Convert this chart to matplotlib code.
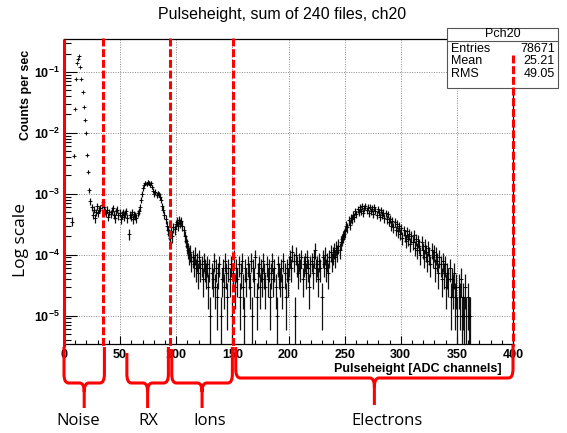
import numpy as np
import matplotlib
matplotlib.use('Agg')
import matplotlib.pyplot as plt
from matplotlib.path import Path
from matplotlib.patches import PathPatch, Rectangle
from matplotlib.lines import Line2D
from matplotlib.ticker import MultipleLocator, LogLocator, NullFormatter
import matplotlib.transforms as mtransforms

plt.rcParams['font.family'] = ['Liberation Sans', 'DejaVu Sans']
plt.rcParams['mathtext.fontset'] = 'custom'
plt.rcParams['mathtext.rm'] = 'Liberation Sans'
plt.rcParams['mathtext.bf'] = 'Liberation Sans:bold'

# ---------------- data ----------------
live_time = 1.0e5  # seconds
# counts per 1-channel bin, channel 0 upward
counts = [
    0, 0, 0, 0, 0, 0, 0, 35, 420, 2500,
    7500, 14000, 16000, 18000, 12000, 7500, 4700, 2700, 1600, 980,
    430, 230, 115, 75, 60, 45, 55, 40, 50, 62,
    48, 55, 58, 65, 72, 60, 52, 48, 55, 42,
    50, 47, 53, 58, 45, 40, 52, 55, 44, 49,
    38, 45, 50, 42, 48, 52, 40, 22, 45, 42,
    50, 38, 46, 44, 40, 48, 52, 60, 78, 100,
    122, 140, 150, 145, 158, 150, 140, 152, 130, 112,
    100, 108, 95, 102, 98, 88, 80, 62, 55, 45,
    38, 30, 25, 22, 19, 24, 20, 28, 26, 32,
    35, 30, 37, 33, 36, 30, 25, 20, 17, 14,
    12, 10, 11, 8, 9, 7, 10, 6, 8, 5,
    9, 6, 7, 4, 8, 6, 5, 7, 3, 6,
    1, 5, 4, 8, 3, 6, 2, 5, 7, 1,
    4, 6, 3, 8, 5, 2, 6, 4, 7, 1,
    5, 9, 3, 6, 4, 7, 2, 5, 8, 3,
    1, 6, 4, 7, 5, 3, 8, 1, 6, 4,
    9, 2, 5, 7, 3, 6, 4, 8, 5, 3,
    7, 4, 6, 2, 5, 8, 4, 6, 3, 1,
    7, 5, 4, 6, 3, 8, 5, 2, 6, 4,
    7, 9, 6, 11, 8, 1, 10, 7, 5, 8,
    6, 9, 4, 7, 8, 5, 9, 6, 3, 7,
    8, 5, 9, 12, 6, 7, 4, 8, 6, 2,
    9, 7, 10, 6, 8, 5, 9, 11, 8, 10,
    12, 9, 13, 11, 14, 12, 16, 18, 20, 22,
    24, 30, 28, 37, 31, 40, 38, 45, 41, 52,
    46, 56, 50, 60, 52, 62, 49, 58, 63, 54,
    59, 48, 61, 52, 57, 47, 60, 53, 45, 56,
    50, 42, 54, 45, 49, 40, 48, 38, 46, 35,
    39, 30, 36, 28, 34, 25, 32, 24, 29, 22,
    27, 19, 25, 21, 17, 24, 18, 22, 15, 20,
    16, 21, 13, 18, 12, 17, 14, 10, 16, 12,
    9, 14, 11, 8, 13, 10, 7, 12, 9, 11,
    6, 10, 8, 5, 9, 7, 4, 8, 5, 7,
    3, 5, 4, 6, 2, 4, 3, 5, 2, 3,
    1, 3, 2, 4, 1, 2, 1, 3, 1, 2,
    1, 1,
]
bin_width = 1.0

x_ticks = [0, 50, 100, 150, 200, 250, 300, 350, 400]
y_ticks = [1e-5, 1e-4, 1e-3, 1e-2, 1e-1]
y_ticklabels = [r'$\mathbf{10^{-5}}$', r'$\mathbf{10^{-4}}$', r'$\mathbf{10^{-3}}$',
                r'$\mathbf{10^{-2}}$', r'$\mathbf{10^{-1}}$']

stats_name = 'Pch20'
stats_rows = [('Entries', '78671'), ('Mean', '25.21'), ('RMS', '49.05')]

cut_lines = [35, 94, 151]          # dashed region borders
region_names = ['Noise', 'RX', 'Ions', 'Electrons']
region_lo = [0, 56, 96, 153]
region_hi = [36, 93, 150, 400]
region_label_x = [12.5, 75.5, 129.5, 288]

# ---------------- figure ----------------
W, H = 567, 433
fig = plt.figure(figsize=(W / 100, H / 100), dpi=100)


def fx(px):
    return px / W


def fy(py):
    return 1 - py / H


ax = fig.add_axes([fx(64), fy(344), fx(513) - fx(64), fy(39) - fy(344)])

counts_arr = np.array(counts, dtype=float)
centers = np.arange(len(counts_arr)) * bin_width + bin_width / 2
rate = counts_arr / live_time
err = np.sqrt(counts_arr) / live_time
m = counts_arr > 0

ax.set_yscale('log')
ax.errorbar(centers[m], rate[m], xerr=bin_width / 2, yerr=err[m], fmt='+',
            color='black', ms=2.2, mew=0.6,
            ecolor='#111111', elinewidth=0.9, capsize=0, zorder=3)

ax.set_xlim(0, 400)
ax.set_ylim(3.42e-6, 0.346)

ax.set_xticks(x_ticks)
ax.set_xticklabels([str(v) for v in x_ticks], fontweight='bold', fontsize=9)
ax.xaxis.set_minor_locator(MultipleLocator(10))
ax.set_yticks(y_ticks)
ax.set_yticklabels(y_ticklabels, fontsize=9)
ax.yaxis.set_minor_locator(LogLocator(base=10, subs=np.arange(2, 10), numticks=20))
ax.yaxis.set_minor_formatter(NullFormatter())

ax.tick_params(axis='x', which='major', direction='in', length=6, width=0.8, pad=3.5)
ax.tick_params(axis='x', which='minor', direction='in', length=3, width=0.8)
ax.tick_params(axis='y', which='major', direction='in', length=9, width=0.8, pad=3)
ax.tick_params(axis='y', which='minor', direction='in', length=5, width=0.8)
ax.grid(True, which='major', linestyle=(0, (1, 1.5)), color='#888888', lw=0.7)
for s in ax.spines.values():
    s.set_linewidth(0.9)

# ---------------- texts ----------------
fig.text(fx(282), fy(15), 'Pulseheight, sum of 240 files, ch20', ha='center',
         va='center', fontsize=11.5)
fig.text(fx(26), fy(95), 'Counts per sec', rotation=90, ha='center', va='center',
         fontweight='bold', fontsize=9)
fig.text(fx(21), fy(240), 'Log scale', rotation=90, ha='center', va='center',
         family=['Open Sans', 'DejaVu Sans'], fontsize=12.5)
fig.text(fx(502), fy(369), 'Pulseheight [ADC channels]', ha='right', va='center',
         fontweight='bold', fontsize=9)

# stats box
bx0, bx1, by0, by1 = 447, 558, 28, 88
fig.add_artist(Rectangle((fx(bx0), fy(by1)), fx(bx1) - fx(bx0), fy(by0) - fy(by1),
                         transform=fig.transFigure, facecolor='white',
                         edgecolor='#555555', lw=0.8, zorder=5))
fig.add_artist(Line2D([fx(bx0), fx(bx1)], [fy(41), fy(41)], transform=fig.transFigure,
                      color='#555555', lw=0.8, zorder=6))
fig.text(fx((bx0 + bx1) / 2), fy(34), stats_name, ha='center', va='center',
         fontsize=9, zorder=7)
for i, (k, v) in enumerate(stats_rows):
    yy = 48.5 + i * 12.7
    fig.text(fx(451), fy(yy), k, ha='left', va='center', fontsize=9, zorder=7)
    fig.text(fx(555), fy(yy), v, ha='right', va='center', fontsize=9, zorder=7)

# ---------------- red annotations ----------------
bt = mtransforms.blended_transform_factory(ax.transData, fig.transFigure)
red = '#ff0000'
lw_red = 2.2

fig.add_artist(Line2D([0, 0], [fy(39), fy(347)], transform=bt, color=red, lw=lw_red,
                      zorder=10, solid_capstyle='butt'))
for xc in cut_lines:
    fig.add_artist(Line2D([xc, xc], [fy(38), fy(348)], transform=bt, color=red,
                          lw=lw_red, dashes=(2.6, 0.9), zorder=10))
fig.add_artist(Line2D([400, 400], [fy(55), fy(346)], transform=bt, color=red,
                      lw=lw_red, dashes=(2.6, 0.9), zorder=10))


def brace(x0, x1, ytop0, ytop1, yh, ytip):
    xm = (x0 + x1) / 2
    r = 4.0  # data units
    rv = 9.0  # pixels
    verts = [
        (x0, fy(ytop0)), (x0, fy(yh - rv)), (x0, fy(yh)), (x0 + r, fy(yh)),
        (xm - r, fy(yh)), (xm, fy(yh)), (xm, fy(yh + rv)), (xm, fy(ytip)),
        (xm, fy(yh + rv)), (xm, fy(yh)), (xm + r, fy(yh)),
        (x1 - r, fy(yh)), (x1, fy(yh)), (x1, fy(yh - rv)), (x1, fy(ytop1)),
    ]
    codes = [Path.MOVETO, Path.LINETO, Path.CURVE3, Path.CURVE3,
             Path.LINETO, Path.CURVE3, Path.CURVE3, Path.LINETO,
             Path.MOVETO, Path.CURVE3, Path.CURVE3,
             Path.LINETO, Path.CURVE3, Path.CURVE3, Path.LINETO]
    fig.add_artist(PathPatch(Path(verts, codes), transform=bt, fill=False,
                             edgecolor=red, lw=lw_red, zorder=10,
                             capstyle='butt', joinstyle='round'))


brace_geom = [(347, 347, 383, 408), (353, 347, 383, 408),
              (349, 347, 383, 408), (347, 345, 378, 405)]
for lo, hi, g in zip(region_lo, region_hi, brace_geom):
    brace(lo, hi, *g)

for name, lx in zip(region_names, region_label_x):
    xfig = fig.transFigure.inverted().transform(ax.transData.transform((lx, 1e-3)))[0]
    fig.text(xfig, fy(421), name, ha='center', va='center',
             family=['Open Sans', 'DejaVu Sans'], fontsize=12)

fig.savefig('out.png', dpi=100)
